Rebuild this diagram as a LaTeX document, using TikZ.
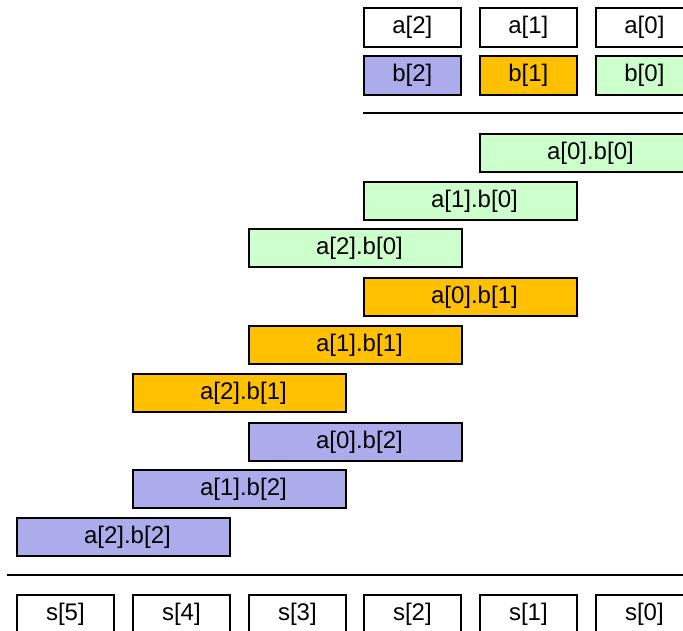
\documentclass[tikz,border=0pt]{standalone}
\usepackage{fontspec}
\setmainfont{Liberation Sans}
\definecolor{cpurple}{RGB}{172,172,236}
\definecolor{corange}{RGB}{255,192,0}
\definecolor{cgreen}{RGB}{204,255,204}
\begin{document}
\begin{tikzpicture}[x=1pt,y=-1pt,
  cell/.style={draw=black,line width=1.8pt,anchor=north west,minimum width=97pt,minimum height=39pt,inner sep=0pt,font=\fontsize{24}{28}\selectfont},
  wide/.style={cell,minimum width=213pt,minimum height=38pt,execute at begin node=\hspace*{8pt}},
  rule/.style={line width=1.8pt}]
\useasboundingbox (0,0) rectangle (683,631);
\begin{scope}
\clip (0,0) rectangle (683,631);
% top operands
\node[cell] (a2) at (363,7) {a[2]};
\node[cell] (a1) at (479,7) {a[1]};
\node[cell] (a0) at (595,7) {a[0]};
\node[cell,fill=cpurple] (b2) at (363,55) {b[2]};
\node[cell,fill=corange] (b1) at (479,55) {b[1]};
\node[cell,fill=cgreen] (b0) at (595,55) {b[0]};
\coordinate (t1) at (363,113);
\coordinate (t2) at (690,113);
\draw[rule] (t1) -- (t2);
% partial products
\node[wide,fill=cgreen] (p00) at (479,133) {a[0].b[0]};
\node[wide,fill=cgreen] (p10) at (363,181) {a[1].b[0]};
\node[wide,fill=cgreen] (p20) at (248,228) {a[2].b[0]};
\node[wide,fill=corange] (p01) at (363,277) {a[0].b[1]};
\node[wide,fill=corange] (p11) at (248,325) {a[1].b[1]};
\node[wide,fill=corange] (p21) at (132,373) {a[2].b[1]};
\node[wide,fill=cpurple] (p02) at (248,422) {a[0].b[2]};
\node[wide,fill=cpurple] (p12) at (132,469) {a[1].b[2]};
\node[wide,fill=cpurple] (p22) at (16,517) {a[2].b[2]};
\coordinate (l1) at (7,575);
\coordinate (l2) at (690,575);
\draw[rule] (l1) -- (l2);
% sums
\node[cell] (s5) at (16,594) {s[5]};
\node[cell] (s4) at (132,594) {s[4]};
\node[cell] (s3) at (248,594) {s[3]};
\node[cell] (s2) at (363,594) {s[2]};
\node[cell] (s1) at (479,594) {s[1]};
\node[cell] (s0) at (595,594) {s[0]};
\end{scope}
\end{tikzpicture}
\end{document}
